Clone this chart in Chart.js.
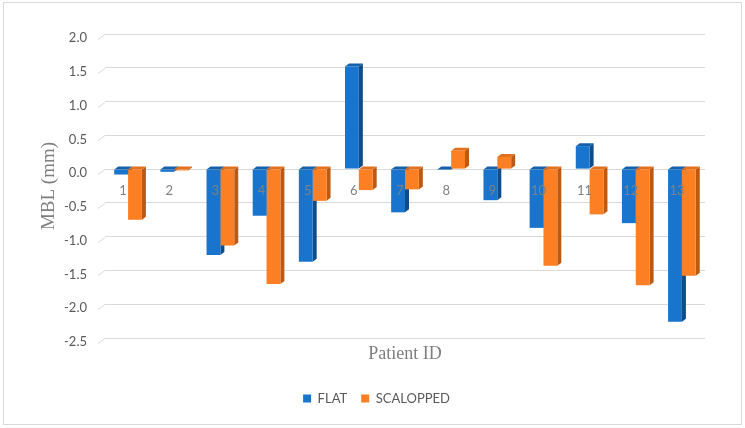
<!DOCTYPE html>
<html lang="en">

<head>
    <meta charset="UTF-8">
    <title>MBL by Patient</title>
    <script src="https://cdn.jsdelivr.net/npm/chart.js"></script>
    <style>
        body {
            margin: 0;
            background-color: #FFFFFF;
        }

        #wrap {
            width: 745px;
            height: 428px;
        }
    </style>
</head>

<body>
    <div id="wrap">
        <canvas id="mblChart" width="745" height="428"></canvas>
    </div>

    <script>
        // Data
        const categories = ['1', '2', '3', '4', '5', '6', '7', '8', '9', '10', '11', '12', '13'];
        const flatValues = [-0.08, -0.04, -1.27, -0.69, -1.37, 1.52, -0.64, -0.01, -0.46, -0.87, 0.34, -0.80, -2.26];
        const scallopedValues = [-0.75, -0.02, -1.13, -1.70, -0.47, -0.31, -0.30, 0.27, 0.18, -1.43, -0.67, -1.72, -1.58];
        const yTicks = [-2.5, -2.0, -1.5, -1.0, -0.5, 0.0, 0.5, 1.0, 1.5, 2.0];

        const faceColors = [
            { side: '#0E4C8A', top: '#1560AA' },
            { side: '#BE5912', top: '#E3701C' }
        ];

        // side and top faces so the bars look like Excel's 3D columns
        const depthFaces = {
            id: 'depthFaces',
            beforeDatasetsDraw(chart) {
                const ctx = chart.ctx;
                const dx = 4, dy = 3;
                ctx.save();
                chart.data.datasets.forEach((ds, di) => {
                    const meta = chart.getDatasetMeta(di);
                    meta.data.forEach(bar => {
                        const p = bar.getProps(['x', 'y', 'base', 'width'], true);
                        const l = p.x - p.width / 2, r = p.x + p.width / 2;
                        const t = Math.min(p.y, p.base), b = Math.max(p.y, p.base);
                        ctx.fillStyle = faceColors[di].side;
                        ctx.beginPath();
                        ctx.moveTo(r, t);
                        ctx.lineTo(r + dx, t - dy);
                        ctx.lineTo(r + dx, b - dy);
                        ctx.lineTo(r, b);
                        ctx.closePath();
                        ctx.fill();
                        ctx.fillStyle = faceColors[di].top;
                        ctx.beginPath();
                        ctx.moveTo(l, t);
                        ctx.lineTo(l + dx, t - dy);
                        ctx.lineTo(r + dx, t - dy);
                        ctx.lineTo(r, t);
                        ctx.closePath();
                        ctx.fill();
                    });
                });
                ctx.restore();
            },
            afterDatasetsDraw(chart) {
                // category numbers sit just under the zero line
                const ctx = chart.ctx;
                const x = chart.scales.x, y = chart.scales.y;
                ctx.save();
                ctx.font = '13px Lato';
                ctx.fillStyle = '#808080';
                ctx.textAlign = 'center';
                ctx.textBaseline = 'middle';
                categories.forEach((c, i) => {
                    ctx.fillText(c, x.getPixelForValue(i) - 5, y.getPixelForValue(0) + 22);
                });
                ctx.restore();
            },
            afterDraw(chart) {
                const ctx = chart.ctx;
                const area = chart.chartArea;
                const y = chart.scales.y;
                ctx.save();
                ctx.strokeStyle = '#D9D9D9';
                ctx.lineWidth = 1;
                // little floor diagonals at the left end of each gridline
                y.ticks.forEach(t => {
                    const py = Math.round(y.getPixelForValue(t.value)) + 0.5;
                    ctx.beginPath();
                    ctx.moveTo(area.left - 7, py + 5);
                    ctx.lineTo(area.left, py);
                    ctx.stroke();
                });
                // outer frame
                ctx.strokeRect(3.5, 2.5, 738, 422);
                ctx.restore();
            }
        };

        const ctx1 = document.getElementById('mblChart').getContext('2d');
        new Chart(ctx1, {
            type: 'bar',
            data: {
                labels: categories,
                datasets: [{
                    label: 'FLAT',
                    data: flatValues,
                    backgroundColor: '#1874CD'
                }, {
                    label: 'SCALOPPED',
                    data: scallopedValues,
                    backgroundColor: '#FD7F23'
                }]
            },
            options: {
                responsive: false,
                animation: false,
                devicePixelRatio: 1,
                categoryPercentage: 0.6,
                barPercentage: 1.0,
                layout: {
                    padding: { left: 48, right: 40, top: 34, bottom: 13 }
                },
                plugins: {
                    legend: {
                        position: 'bottom',
                        labels: {
                            boxWidth: 8,
                            boxHeight: 8,
                            padding: 14,
                            color: '#595959',
                            font: { family: 'Lato', size: 13 }
                        }
                    },
                    tooltip: { enabled: false }
                },
                scales: {
                    x: {
                        grid: { display: false },
                        border: { display: false },
                        ticks: { display: false },
                        title: {
                            display: true,
                            text: 'Patient ID',
                            color: '#7F7F7F',
                            font: { family: 'Liberation Serif', size: 18 },
                            padding: { top: 0, bottom: 13 }
                        },
                        afterFit(scale) { scale.height = 40; }
                    },
                    y: {
                        min: -2.5,
                        max: 2.0,
                        afterBuildTicks(scale) {
                            scale.ticks = yTicks.map(v => ({ value: v }));
                        },
                        grid: { color: '#D9D9D9', drawTicks: false },
                        border: { display: false },
                        ticks: {
                            padding: 18,
                            labelOffset: 4,
                            color: '#595959',
                            font: { family: 'Lato', size: 13 },
                            callback: v => v.toFixed(1)
                        },
                        title: {
                            display: true,
                            text: 'MBL (mm)',
                            color: '#7F7F7F',
                            font: { family: 'Liberation Serif', size: 19 },
                            padding: { top: -10, bottom: 0 }
                        },
                        afterFit(scale) { scale.width = 57; }
                    }
                }
            },
            plugins: [depthFaces]
        });
    </script>
</body>

</html>
